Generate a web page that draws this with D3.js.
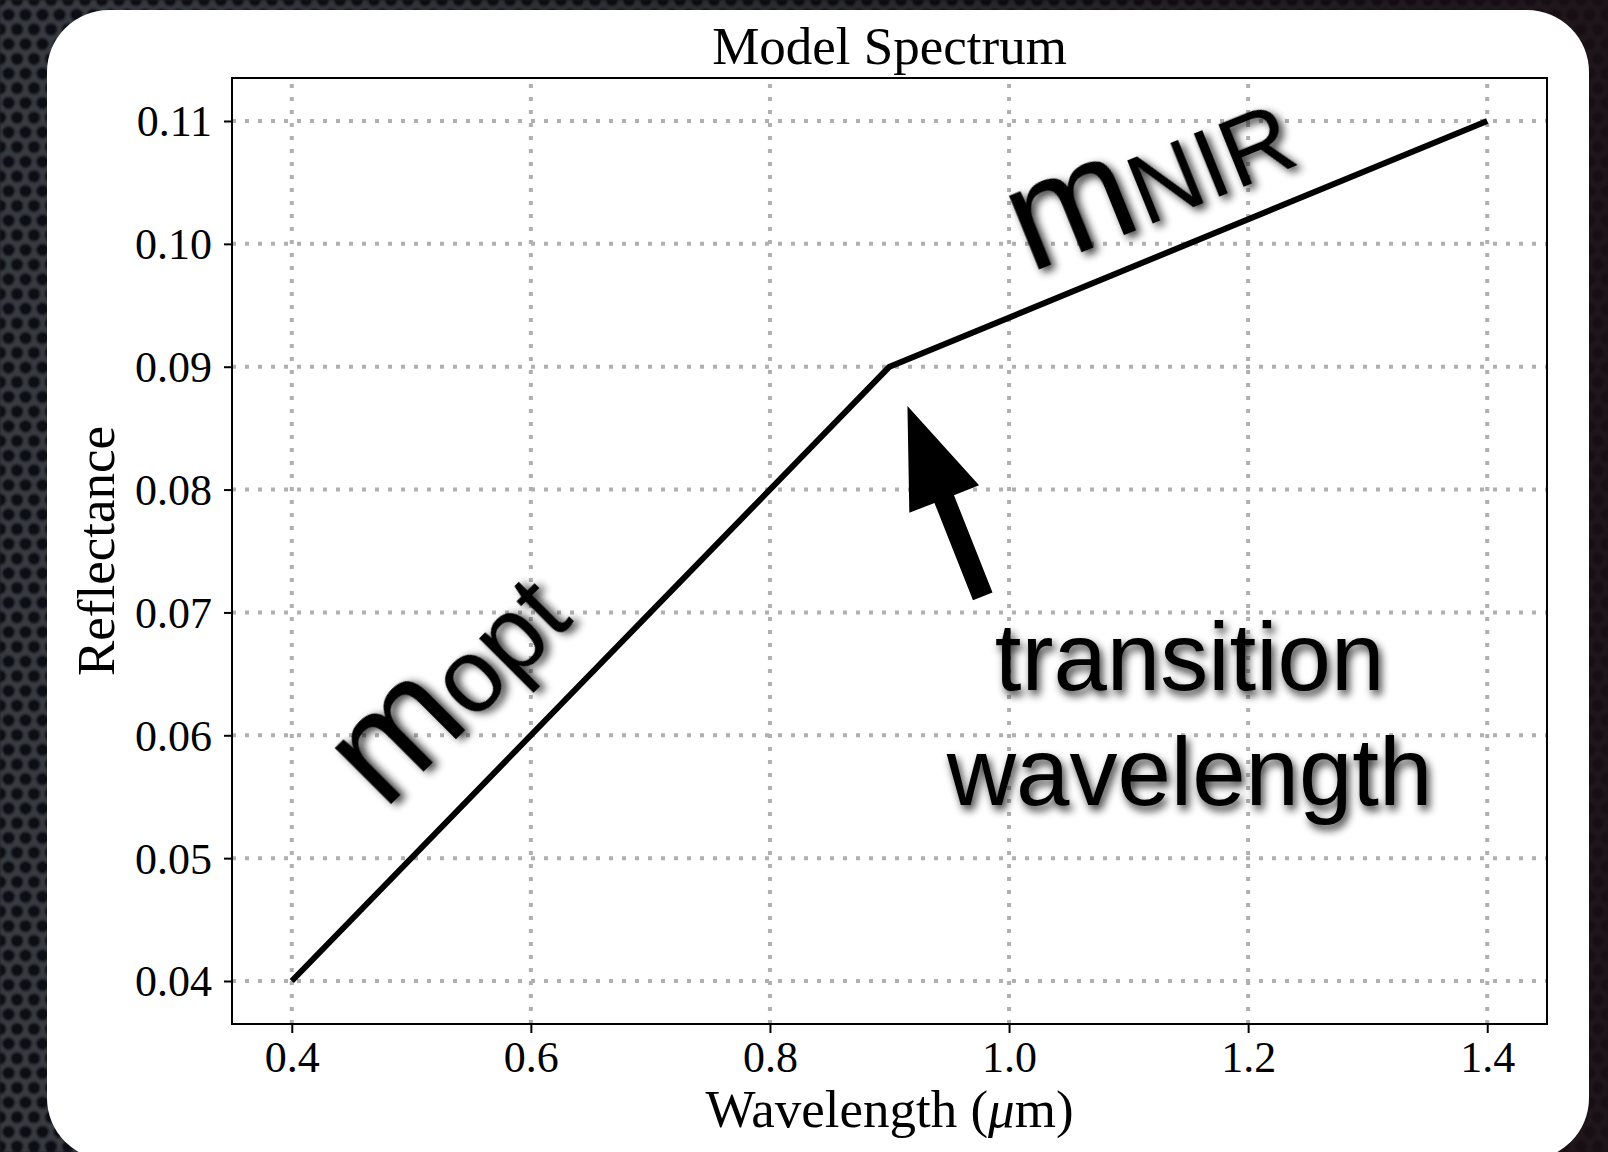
<!DOCTYPE html>
<html>
<head>
<meta charset="utf-8">
<script src="https://cdn.jsdelivr.net/npm/d3@7"></script>
<style>
  html, body { margin: 0; padding: 0; background: #1a1a1e; }
  svg { display: block; }
</style>
</head>
<body>
<svg id="chart" width="1608" height="1152"></svg>
<script>
// Model spectrum: piecewise-linear reflectance vs wavelength
const wavelengths = [0.4, 0.9, 1.4];
const reflectance = [0.04, 0.09, 0.11];

const xTicks = [0.4, 0.6, 0.8, 1.0, 1.2, 1.4];
const yTicks = [0.04, 0.05, 0.06, 0.07, 0.08, 0.09, 0.10, 0.11];
const xTickLabels = ["0.4", "0.6", "0.8", "1.0", "1.2", "1.4"];
const yTickLabels = ["0.04", "0.05", "0.06", "0.07", "0.08", "0.09", "0.10", "0.11"];

const xDomain = [0.35, 1.45];
const yDomain = [0.0365, 0.1135];

// Annotation anchors, in data units
const slopeOptAnchor = [0.477, 0.0538];
const slopeNirAnchor = [1.017, 0.0976];
const arrowTip = [0.915, 0.0868];
const arrowTail = [0.978, 0.0713];
const transitionAnchor = [1.151, 0.0637];
const transitionLines = ["transition", "wavelength"];

const W = 1608, H = 1152;
const plot = { left: 232, right: 1547, top: 78, bottom: 1024 };

const svg = d3.select("#chart");
const defs = svg.append("defs");

// Honeycomb backdrop
const pat = defs.append("pattern")
  .attr("id", "hex").attr("patternUnits", "userSpaceOnUse")
  .attr("width", 17).attr("height", 29.4);
pat.append("rect").attr("width", 17).attr("height", 29.4).attr("fill", "#383a41");
[[0, 0], [17, 0], [8.5, 14.7], [0, 29.4], [17, 29.4]].forEach(([cx, cy]) => {
  pat.append("circle").attr("cx", cx).attr("cy", cy).attr("r", 6.2).attr("fill", "#0e1014");
});
defs.append("filter").attr("id", "soft")
  .append("feGaussianBlur").attr("stdDeviation", 1.3);

const fade = defs.append("linearGradient").attr("id", "fade")
  .attr("x1", 0).attr("x2", 1).attr("y1", 0).attr("y2", 0);
fade.append("stop").attr("offset", 0).attr("stop-color", "#000").attr("stop-opacity", 0.0);
fade.append("stop").attr("offset", 0.6).attr("stop-color", "#0a0508").attr("stop-opacity", 0.35);
fade.append("stop").attr("offset", 1).attr("stop-color", "#1a0f14").attr("stop-opacity", 0.85);

// Drop shadow for the annotation text
const sh = defs.append("filter").attr("id", "shadow")
  .attr("x", "-20%").attr("y", "-20%").attr("width", "140%").attr("height", "140%");
sh.append("feGaussianBlur").attr("in", "SourceAlpha").attr("stdDeviation", 4).attr("result", "b");
sh.append("feOffset").attr("in", "b").attr("dx", 3).attr("dy", 5).attr("result", "o");
sh.append("feComponentTransfer").attr("in", "o").attr("result", "s")
  .append("feFuncA").attr("type", "linear").attr("slope", 0.8);
const mg = sh.append("feMerge");
mg.append("feMergeNode").attr("in", "s");
mg.append("feMergeNode").attr("in", "SourceGraphic");

svg.append("rect").attr("width", W).attr("height", H).attr("fill", "url(#hex)").attr("filter", "url(#soft)");
svg.append("rect").attr("width", W).attr("height", H).attr("fill", "url(#fade)");

// White card
svg.append("rect")
  .attr("x", 47).attr("y", 10).attr("width", 1542).attr("height", 1150)
  .attr("rx", 62).attr("ry", 62).attr("fill", "#ffffff");

const x = d3.scaleLinear().domain(xDomain).range([plot.left, plot.right]);
const y = d3.scaleLinear().domain(yDomain).range([plot.bottom, plot.top]);

const serif = "'Liberation Serif', 'Times New Roman', serif";
const sans = "'Liberation Sans', Arial, Helvetica, sans-serif";

// Dotted grid
const grid = svg.append("g").attr("stroke", "#b0b0b0").attr("stroke-width", 4)
  .attr("stroke-dasharray", "4,9");
grid.selectAll("line.gx").data(xTicks).join("line")
  .attr("x1", d => x(d)).attr("x2", d => x(d))
  .attr("y1", plot.bottom).attr("y2", plot.top);
grid.selectAll("line.gy").data(yTicks).join("line")
  .attr("y1", d => y(d)).attr("y2", d => y(d))
  .attr("x1", plot.left).attr("x2", plot.right);

// Spectrum line
const pts = wavelengths.map((w, i) => [w, reflectance[i]]);
svg.append("path")
  .attr("d", d3.line().x(d => x(d[0])).y(d => y(d[1]))(pts))
  .attr("fill", "none").attr("stroke", "#000").attr("stroke-width", 6)
  .attr("stroke-linejoin", "round").attr("stroke-linecap", "butt");

// Axes
const xAxis = svg.append("g").attr("transform", `translate(0,${plot.bottom})`)
  .call(d3.axisBottom(x).tickValues(xTicks).tickSize(9).tickPadding(8)
    .tickFormat((d, i) => xTickLabels[i]));
const yAxis = svg.append("g").attr("transform", `translate(${plot.left},0)`)
  .call(d3.axisLeft(y).tickValues(yTicks).tickSize(8).tickPadding(12)
    .tickFormat((d, i) => yTickLabels[i]));
[xAxis, yAxis].forEach(a => {
  a.select(".domain").remove();
  a.selectAll(".tick line").attr("stroke", "#000").attr("stroke-width", 2);
  a.selectAll(".tick text").attr("fill", "#000").style("font-family", serif).style("font-size", "44px");
});
xAxis.selectAll(".tick text").attr("dy", "0.71em");
yAxis.selectAll(".tick text").attr("dy", "0.34em");

svg.append("rect")
  .attr("x", plot.left).attr("y", plot.top)
  .attr("width", plot.right - plot.left).attr("height", plot.bottom - plot.top)
  .attr("fill", "none").attr("stroke", "#000").attr("stroke-width", 2);

// Titles
svg.append("text").attr("x", (plot.left + plot.right) / 2).attr("y", 64)
  .attr("text-anchor", "middle").style("font-family", serif).style("font-size", "53px")
  .text("Model Spectrum");

const xl = svg.append("text").attr("x", (plot.left + plot.right) / 2).attr("y", 1127)
  .attr("text-anchor", "middle").style("font-family", serif).style("font-size", "53px");
xl.append("tspan").text("Wavelength (");
xl.append("tspan").style("font-style", "italic").text("\u03bc");
xl.append("tspan").text("m)");

svg.append("text")
  .attr("transform", `translate(114,${(plot.top + plot.bottom) / 2}) rotate(-90)`)
  .attr("text-anchor", "middle").style("font-family", serif).style("font-size", "53px")
  .text("Reflectance");

// Slope labels
function slopeLabel(anchor, angle, sub, subSize) {
  const t = svg.append("text")
    .attr("transform", `translate(${x(anchor[0])},${y(anchor[1])}) rotate(${angle})`)
    .attr("filter", "url(#shadow)").style("font-family", sans).attr("fill", "#000");
  t.append("tspan").style("font-size", "150px").text("m");
  t.append("tspan").style("font-size", subSize + "px").text(sub);
}
slopeLabel(slopeOptAnchor, -45, "opt", 104);
slopeLabel(slopeNirAnchor, -22, "NIR", 98);

// Arrow pointing at the transition
const tip = [x(arrowTip[0]), y(arrowTip[1])];
const tail = [x(arrowTail[0]), y(arrowTail[1])];
const dx = tip[0] - tail[0], dy = tip[1] - tail[1];
const len = Math.hypot(dx, dy);
const ux = dx / len, uy = dy / len, px = -uy, py = ux;
const shaftW = 21, headW = 75, headL = 100;
const bx = tip[0] - ux * headL, by = tip[1] - uy * headL;
const arrow = [
  [tail[0] + px * shaftW / 2, tail[1] + py * shaftW / 2],
  [bx + px * shaftW / 2, by + py * shaftW / 2],
  [bx + px * headW / 2, by + py * headW / 2],
  tip,
  [bx - px * headW / 2, by - py * headW / 2],
  [bx - px * shaftW / 2, by - py * shaftW / 2],
  [tail[0] - px * shaftW / 2, tail[1] - py * shaftW / 2]
];
svg.append("path").attr("d", "M" + arrow.map(p => p.join(",")).join("L") + "Z").attr("fill", "#000");

// Transition wavelength label
const tt = svg.append("text").attr("filter", "url(#shadow)")
  .attr("text-anchor", "middle").style("font-family", sans).style("font-size", "96px");
transitionLines.forEach((s, i) => {
  tt.append("tspan").attr("x", x(transitionAnchor[0])).attr("y", y(transitionAnchor[1]) + i * 115).text(s);
});
</script>
</body>
</html>
